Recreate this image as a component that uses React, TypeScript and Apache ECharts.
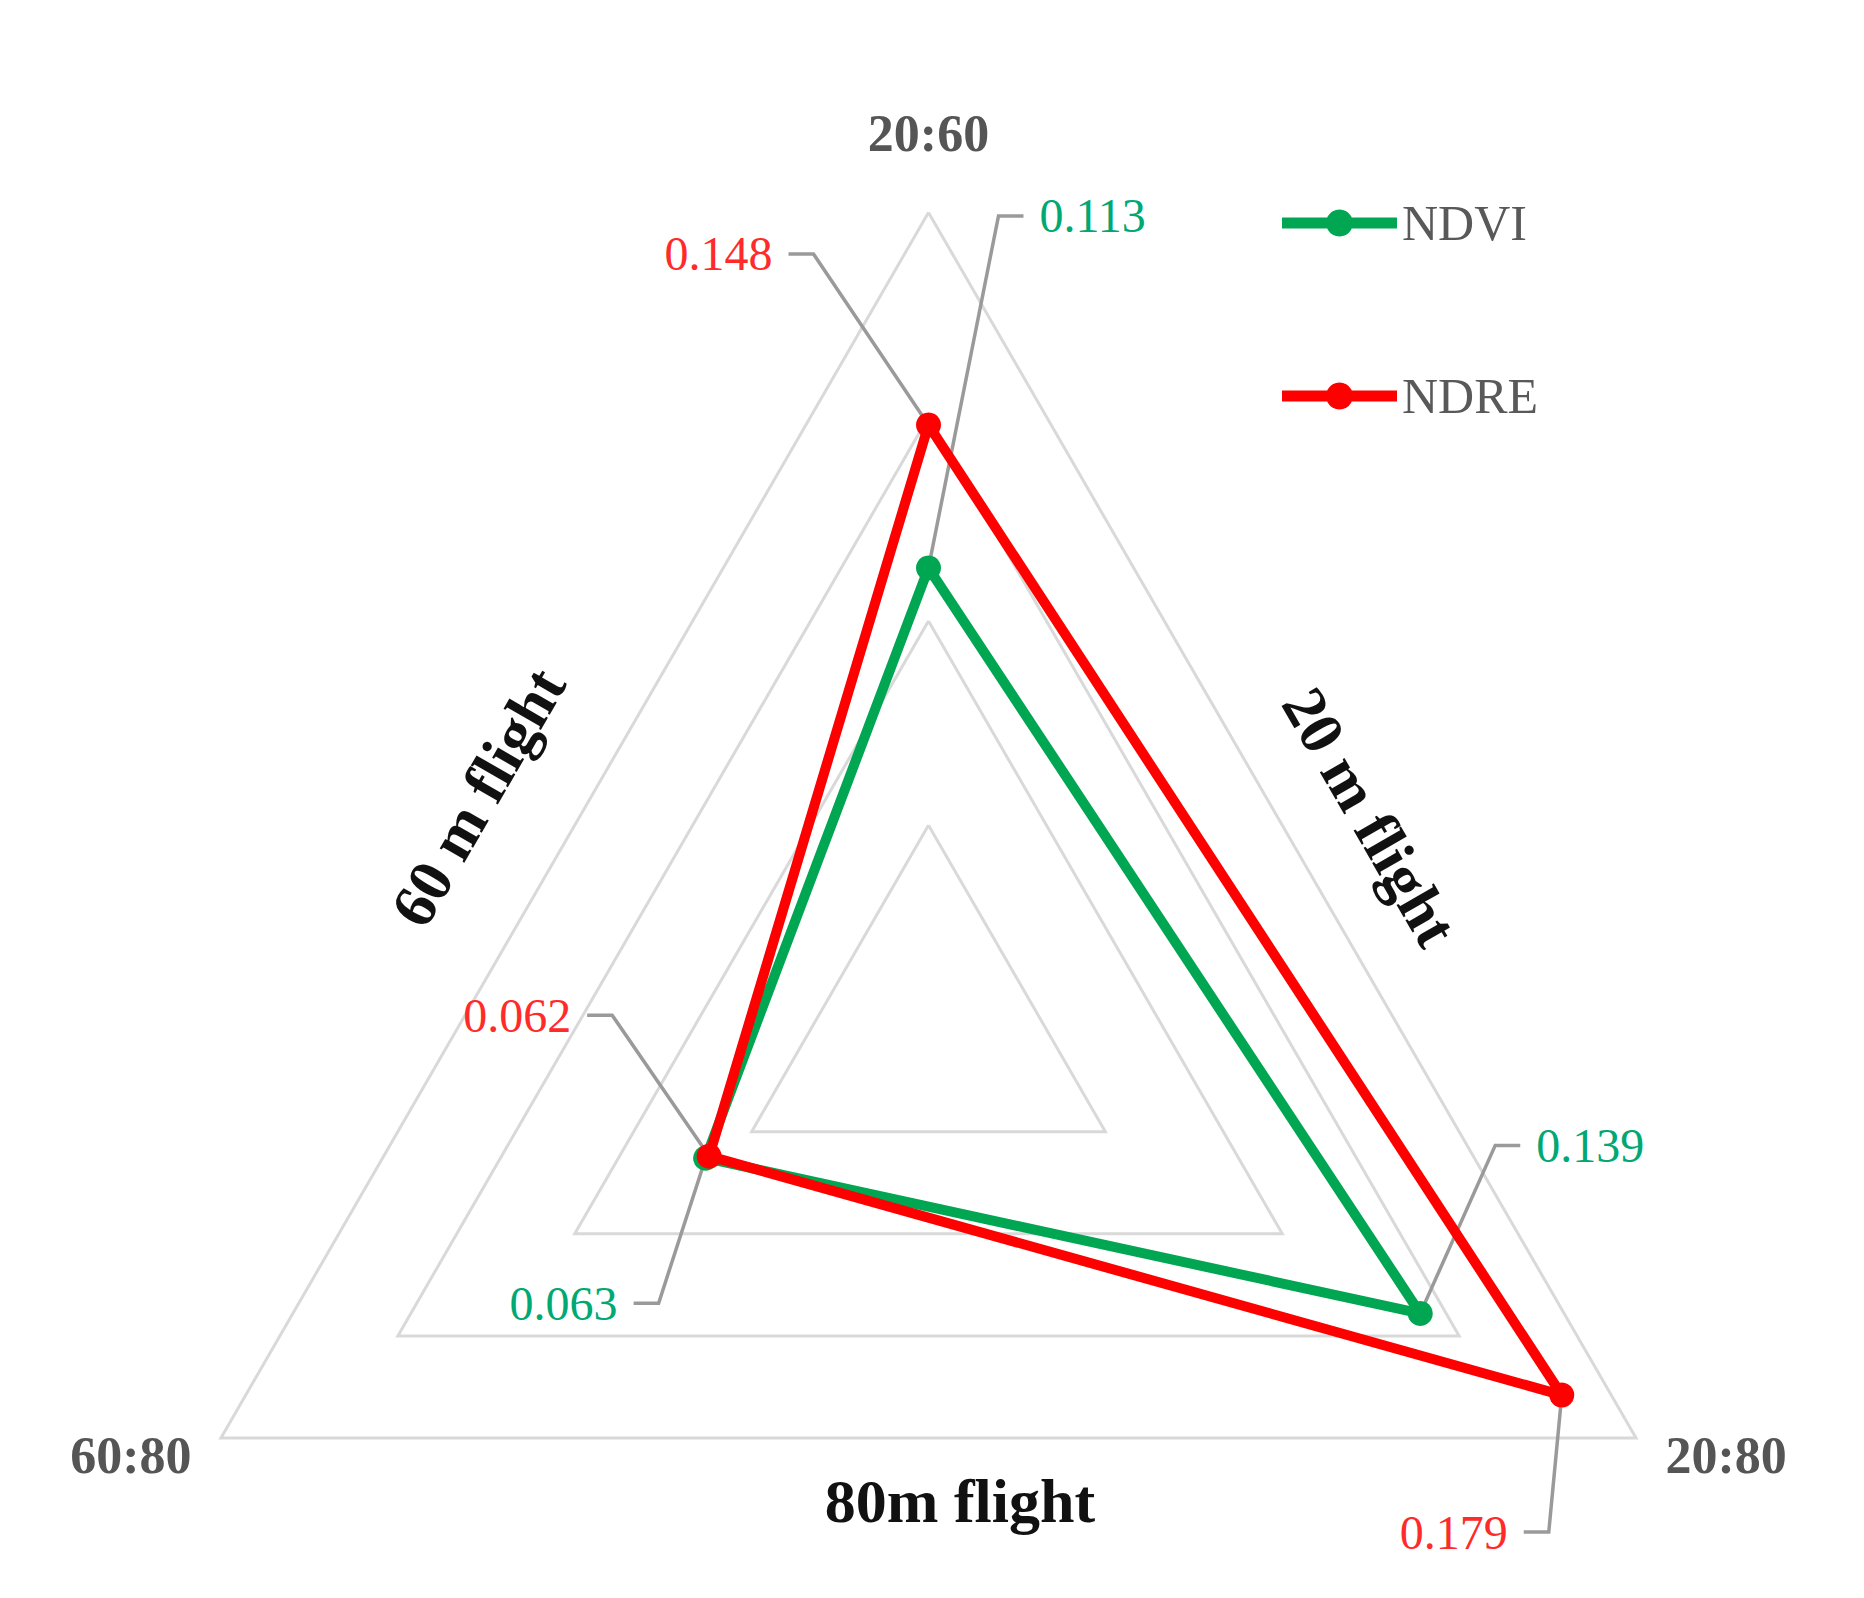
import React, { useEffect, useRef } from 'react';
import * as echarts from 'echarts';

// ---- data ----
const indicatorNames = ['20:60', '60:80', '20:80'];
const indicatorMax = 0.2;
const seriesNames = ['NDVI', 'NDRE'];
const ndviValues = [0.113, 0.063, 0.139];
const ndreValues = [0.148, 0.062, 0.179];
const flightLabels = ['60 m flight', '20 m flight', '80m flight'];

// ---- styles / layout ----
const FONT = "'Liberation Serif', 'Times New Roman', serif";
const seriesColors = ['#00a651', '#ff0000'];
const labelColors = ['#00a874', '#ff2b2b'];
const CENTER = [920.5, 1021.5];
const RADIUS = 817;
// elbow offset of each leader line relative to its point; side: 1 = label on right, -1 = label on left
const leaderLayout = [
  [
    { dx: 70, dy: -352, side: 1 },
    { dx: -47, dy: 145, side: -1 },
    { dx: 75, dy: -168, side: 1 },
  ],
  [
    { dx: -115, dy: -171, side: -1 },
    { dx: -97, dy: -141, side: -1 },
    { dx: -13, dy: 137, side: -1 },
  ],
];

const legendIcon =
  'path://M0,8 L115,8 L115,19 L0,19 Z M57.5,0 A13.5,13.5 0 1 1 57.49,0 Z';

export default function App() {
  const ref = useRef<HTMLDivElement>(null);

  useEffect(() => {
    if (!ref.current) return;
    const chart = echarts.init(ref.current, undefined, { renderer: 'svg' });
    const allValues = [ndviValues, ndreValues];
    const step = 360 / indicatorNames.length;
    const leaderData: number[][] = [];
    allValues.forEach((vals, s) => {
      vals.forEach((v, i) => leaderData.push([v, i * step, s, i]));
    });

    const option: any = {
      animation: false,
      backgroundColor: '#ffffff',
      legend: {
        orient: 'vertical',
        left: 1274,
        top: 190,
        padding: 0,
        itemGap: 123,
        itemWidth: 115,
        itemHeight: 27,
        textStyle: { fontFamily: FONT, fontSize: 50, color: '#595959' },
        data: seriesNames.map((n, s) => ({
          name: n,
          icon: legendIcon,
          itemStyle: { color: seriesColors[s], borderWidth: 0 },
          lineStyle: { width: 0 },
        })),
      },
      radar: {
        center: CENTER,
        radius: RADIUS,
        startAngle: 90,
        shape: 'polygon',
        splitNumber: 4,
        nameGap: 34,
        indicator: indicatorNames.map((n) => ({ name: n, min: 0, max: indicatorMax })),
        axisName: {
          color: '#555555',
          fontFamily: FONT,
          fontSize: 52,
          fontWeight: 'bold',
          formatter: (name: string) =>
            name === indicatorNames[0] ? `{top|${name}}` : `{side|${name}}`,
          rich: {
            top: {
              color: '#555555',
              fontFamily: FONT,
              fontSize: 52,
              fontWeight: 'bold',
              padding: [0, 0, 19, 0],
            },
            side: {
              color: '#555555',
              fontFamily: FONT,
              fontSize: 52,
              fontWeight: 'bold',
            },
          },
        },
        splitLine: { lineStyle: { color: '#d9d9d9', width: 3 } },
        splitArea: { show: false },
        axisLine: { show: false },
        axisTick: { show: false },
        axisLabel: { show: false },
      },
      polar: { center: CENTER, radius: RADIUS },
      angleAxis: {
        type: 'value',
        min: 0,
        max: 360,
        startAngle: 90,
        clockwise: false,
        show: false,
      },
      radiusAxis: { type: 'value', min: 0, max: indicatorMax, show: false },
      graphic: [
        {
          type: 'text',
          x: 470,
          y: 789,
          rotation: Math.PI / 3,
          style: {
            text: flightLabels[0],
            fontFamily: FONT,
            fontSize: 62,
            fontWeight: 'bold',
            fill: '#111111',
            align: 'center',
            verticalAlign: 'middle',
          },
        },
        {
          type: 'text',
          x: 1362,
          y: 809,
          rotation: -Math.PI / 3,
          style: {
            text: flightLabels[1],
            fontFamily: FONT,
            fontSize: 62,
            fontWeight: 'bold',
            fill: '#111111',
            align: 'center',
            verticalAlign: 'middle',
          },
        },
        {
          type: 'text',
          x: 952,
          y: 1493,
          style: {
            text: flightLabels[2],
            fontFamily: FONT,
            fontSize: 62,
            fontWeight: 'bold',
            fill: '#111111',
            align: 'center',
            verticalAlign: 'middle',
          },
        },
      ],
      series: [
        ...allValues.map((vals, s) => ({
          type: 'radar',
          name: seriesNames[s],
          z: 3 + s,
          symbol: 'circle',
          symbolSize: 25,
          lineStyle: { color: seriesColors[s], width: 10 },
          itemStyle: { color: seriesColors[s] },
          data: [{ name: seriesNames[s], value: vals }],
        })),
        {
          type: 'custom',
          coordinateSystem: 'polar',
          z: 2,
          silent: true,
          data: leaderData,
          renderItem: (params: any, api: any) => {
            const v = api.value(0);
            const ang = api.value(1);
            const s = api.value(2);
            const i = api.value(3);
            const pt = api.coord([v, ang]);
            const lay = leaderLayout[s][i];
            const ex = pt[0] + lay.dx;
            const ey = pt[1] + lay.dy;
            const hx = ex + lay.side * 25;
            return {
              type: 'group',
              children: [
                {
                  type: 'polyline',
                  shape: { points: [pt, [ex, ey], [hx, ey]] },
                  style: { stroke: '#9a9a9a', lineWidth: 3.5, fill: null },
                },
                {
                  type: 'text',
                  x: hx + lay.side * 16,
                  y: ey,
                  style: {
                    text: Number(v).toFixed(3),
                    fill: labelColors[s],
                    fontFamily: FONT,
                    fontSize: 48,
                    align: lay.side > 0 ? 'left' : 'right',
                    verticalAlign: 'middle',
                  },
                },
              ],
            };
          },
        },
      ],
    };
    chart.setOption(option);
    return () => chart.dispose();
  }, []);

  return <div ref={ref} style={{ width: 1848, height: 1582 }} />;
}
